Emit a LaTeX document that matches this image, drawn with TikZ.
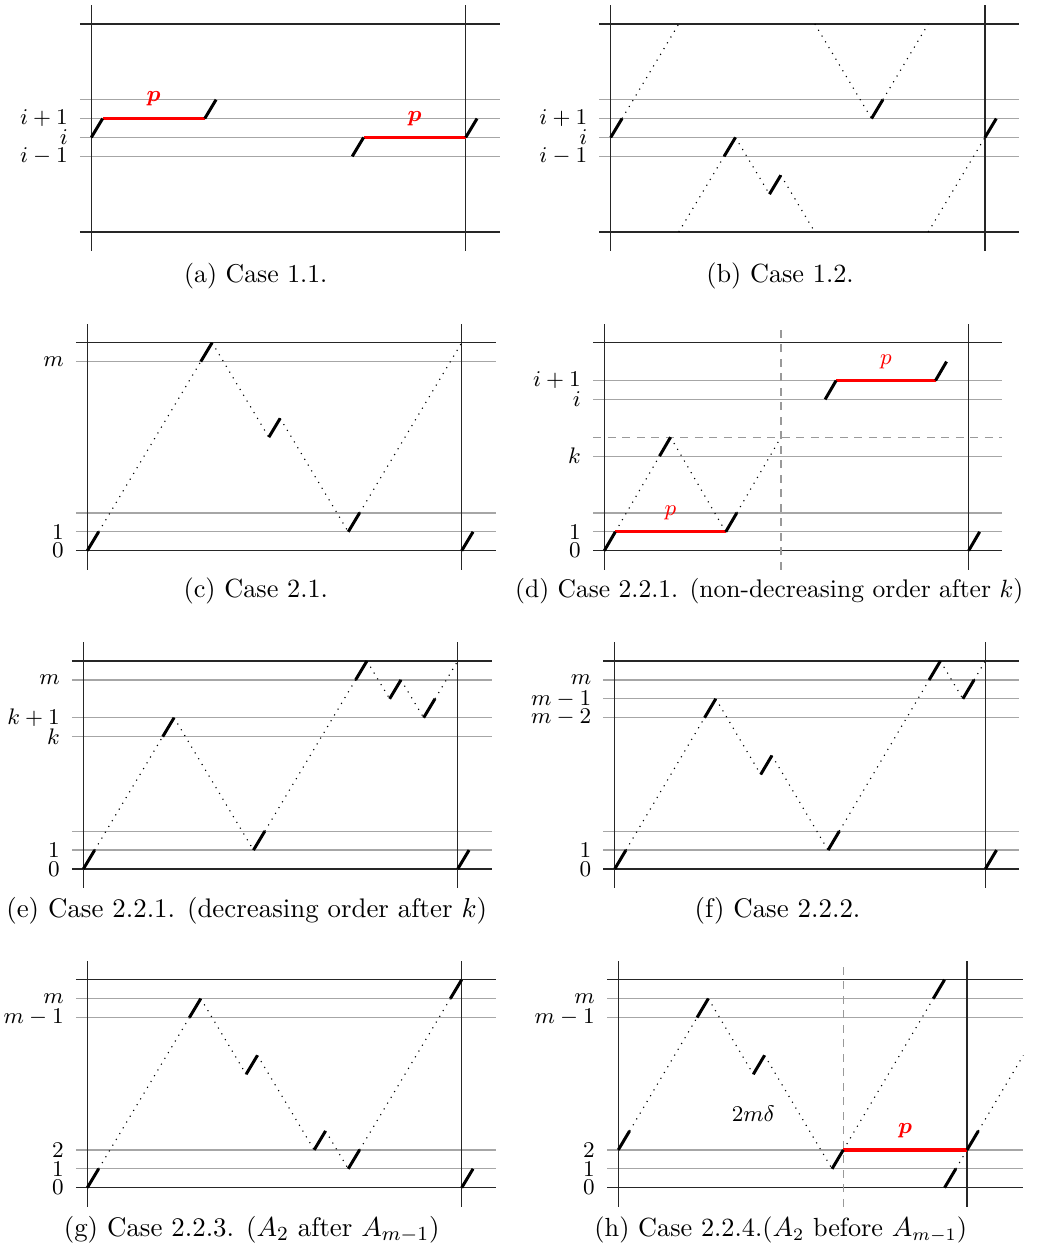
\documentclass[tikz,border=0pt]{standalone}
\usepackage{bm}
\tikzset{
  framel/.style={black!85, line width=0.5pt},
  gridl/.style={black!35, line width=0.5pt},
  slantl/.style={black, line width=1.2pt},
  redl/.style={red, line width=1.3pt},
  dotl/.style={black, line width=0.45pt, dash pattern=on 0.45pt off 2.25pt},
  gdash/.style={black!40, line width=0.5pt, dash pattern=on 3.2pt off 2.6pt},
  lab/.style={anchor=east, inner sep=0pt, font=\fontsize{8.7}{10}\selectfont},
  captxt/.style={anchor=base, inner sep=0pt, font=\fontsize{#1}{12}\selectfont},
  captxt/.default=10.2,
  plab/.style={text=red, inner sep=0pt, font=\fontsize{8.7}{10}\selectfont},
  mlab/.style={inner sep=0pt, font=\fontsize{8.7}{10}\selectfont},
}
\newcommand\pframe[3]{%
  \foreach \g in {#3} {\draw[gridl] (-1,\g) -- (#2,\g);}
  \draw[framel] (-1,0) -- (#2,0);
  \draw[framel] (-1,11) -- (#2,11);
  \draw[framel] (0,-1) -- (0,12);
  \draw[framel] (#1,-1) -- (#1,12);
}
\newcommand\slnt[2]{\draw[slantl] (#1,#2) -- ++(1,1);}
\newcommand\dotsg[4]{\draw[dotl] (#1,#2) -- (#3,#4);}
\newcommand\lbl[3]{\node[lab] (#1) at ([xshift=-9.2pt]0,#2) {$#3$};}
\begin{document}
\begin{tikzpicture}[x=0.4pt,y=-0.4pt]
\useasboundingbox (0,0) rectangle (1037,1252);

% ---------- (a)
\begin{scope}[shift={(91.3,232)}, x=4.538pt, y=7.564pt]
  \pframe{33}{36}{4,5,6,7}
  \lbl{a6}{6}{i+1}\lbl{a5}{5}{i}\lbl{a4}{4}{i-1}
  \draw[redl] (1,6) -- (10,6);
  \draw[redl] (24,5) -- (33,5);
  \slnt{0}{5}\slnt{10}{6}\slnt{23}{4}\slnt{33}{5}
  \node[plab] (ap1) at (5.5,7.03) {$\bm{p}$};
  \node[plab] (ap2) at (28.5,6.0) {$\bm{p}$};
\end{scope}
\node[captxt=10.3] (capa) at (255.8,282.3) {(a) Case 1.1.};

% ---------- (b)
\begin{scope}[shift={(610.7,232)}, x=4.536pt, y=7.564pt]
  \pframe{33}{36}{4,5,6,7}
  \lbl{b6}{6}{i+1}\lbl{b5}{5}{i}\lbl{b4}{4}{i-1}
  \dotsg{1}{6}{6}{11}\dotsg{18}{11}{23}{6}\dotsg{24}{7}{28}{11}
  \dotsg{6}{0}{10}{4}\dotsg{11}{5}{14}{2}\dotsg{15}{3}{18}{0}
  \dotsg{28}{0}{33}{5}
  \slnt{0}{5}\slnt{23}{6}\slnt{10}{4}\slnt{14}{2}\slnt{33}{5}
\end{scope}
\node[captxt=10.5] (capb) at (780,282.3) {(b) Case 1.2.};

% ---------- (c)
\begin{scope}[shift={(87.3,550.7)}, x=4.538pt, y=7.564pt]
  \pframe{33}{36}{1,2,10}
  \lbl{c10}{10}{m}\lbl{c1}{1}{1}\lbl{c0}{0}{0}
  \dotsg{1}{1}{10}{10}\dotsg{11}{11}{16}{6}\dotsg{17}{7}{23}{1}\dotsg{24}{2}{33}{11}
  \slnt{0}{0}\slnt{10}{10}\slnt{16}{6}\slnt{23}{1}\slnt{33}{0}
\end{scope}
\node[captxt=10.5] (capc) at (255.8,597.3) {(c) Case 2.1.};

% ---------- (d)
\begin{scope}[shift={(604.3,550.7)}, x=4.416pt, y=7.564pt]
  \pframe{33}{36}{1,2,5,8,9}
  \draw[gdash] (-1,6) -- (36,6);
  \draw[gdash] (16,-1) -- (16,12);
  \lbl{d9}{9}{i+1}\lbl{d8}{8}{i}\lbl{d5}{5}{k}\lbl{d1}{1}{1}\lbl{d0}{0}{0}
  \dotsg{1}{1}{5}{5}\dotsg{6}{6}{11}{1}\dotsg{12}{2}{16}{6}
  \draw[redl] (1,1) -- (11,1);
  \draw[redl] (21,9) -- (30,9);
  \slnt{0}{0}\slnt{5}{5}\slnt{11}{1}\slnt{20}{8}\slnt{30}{9}\slnt{33}{0}
  \node[plab] (dp1) at (6,2.0) {$p$};
  \node[plab] (dp2) at (25.5,10) {$p$};
\end{scope}
\node[captxt=10.2] (capd) at (769.2,597.3) {(d) Case 2.2.1. (non-decreasing order after $k$)};

% ---------- (e)
\begin{scope}[shift={(83.3,869)}, x=4.538pt, y=7.564pt]
  \pframe{33}{36}{1,2,7,8,10}
  \lbl{e10}{10}{m}\lbl{e8}{8}{k+1}\lbl{e7}{7}{k}\lbl{e1}{1}{1}\lbl{e0}{0}{0}
  \dotsg{1}{1}{7}{7}\dotsg{8}{8}{15}{1}\dotsg{16}{2}{24}{10}
  \dotsg{25}{11}{27}{9}\dotsg{28}{10}{30}{8}\dotsg{31}{9}{33}{11}
  \slnt{0}{0}\slnt{7}{7}\slnt{15}{1}\slnt{24}{10}\slnt{27}{9}\slnt{30}{8}\slnt{33}{0}
\end{scope}
\node[captxt=10.75] (cape) at (246.7,917) {(e) Case 2.2.1. (decreasing order after $k$)};

% ---------- (f)
\begin{scope}[shift={(614.7,869)}, x=4.492pt, y=7.564pt]
  \pframe{33}{36}{1,2,8,9,10}
  \lbl{f10}{10}{m}\lbl{f9}{9}{m-1}\lbl{f8}{8}{m-2}\lbl{f1}{1}{1}\lbl{f0}{0}{0}
  \dotsg{1}{1}{8}{8}\dotsg{9}{9}{13}{5}\dotsg{14}{6}{19}{1}
  \dotsg{20}{2}{28}{10}\dotsg{29}{11}{31}{9}\dotsg{32}{10}{33}{11}
  \slnt{0}{0}\slnt{8}{8}\slnt{13}{5}\slnt{19}{1}\slnt{28}{10}\slnt{31}{9}\slnt{33}{0}
\end{scope}
\node[captxt=10.75] (capf) at (777.5,917) {(f) Case 2.2.2.};

% ---------- (g)
\begin{scope}[shift={(87.3,1187.7)}, x=4.538pt, y=7.564pt]
  \pframe{33}{36}{1,2,9,10}
  \lbl{g10}{10}{m}\lbl{g9}{9}{m-1}\lbl{g2}{2}{2}\lbl{g1}{1}{1}\lbl{g0}{0}{0}
  \dotsg{1}{1}{9}{9}\dotsg{10}{10}{14}{6}\dotsg{15}{7}{20}{2}
  \dotsg{21}{3}{23}{1}\dotsg{24}{2}{32}{10}
  \slnt{0}{0}\slnt{9}{9}\slnt{14}{6}\slnt{20}{2}\slnt{23}{1}\slnt{32}{10}\slnt{33}{0}
\end{scope}
\node[captxt=10.75] (capg) at (251.7,1236.5) {(g) Case 2.2.3. ($A_2$ after $A_{m-1}$)};

% ---------- (h)
\begin{scope}[shift={(618.3,1187.7)}, x=4.5pt, y=7.564pt]
  \pframe{31}{36}{1,2,9,10}
  \draw[gdash] (20,-1) -- (20,12);
  \lbl{h10}{10}{m}\lbl{h9}{9}{m-1}\lbl{h2}{2}{2}\lbl{h1}{1}{1}\lbl{h0}{0}{0}
  \dotsg{1}{3}{7}{9}\dotsg{8}{10}{12}{6}\dotsg{13}{7}{19}{1}
  \dotsg{20}{2}{28}{10}\dotsg{32}{3}{36}{7}\dotsg{30}{1}{31}{2}
  \draw[redl] (20,2) -- (31,2);
  \slnt{0}{2}\slnt{7}{9}\slnt{12}{6}\slnt{19}{1}\slnt{28}{10}\slnt{31}{2}\slnt{29}{0}
  \node[plab] (hp) at (25.5,3) {$\bm{p}$};
  \node[mlab] (hd) at (12,3.9) {$2m\delta$};
\end{scope}
\node[captxt=10.5] (caph) at (780.8,1236.5) {(h) Case 2.2.4.($A_2$ before $A_{m-1}$)};
\end{tikzpicture}
\end{document}
